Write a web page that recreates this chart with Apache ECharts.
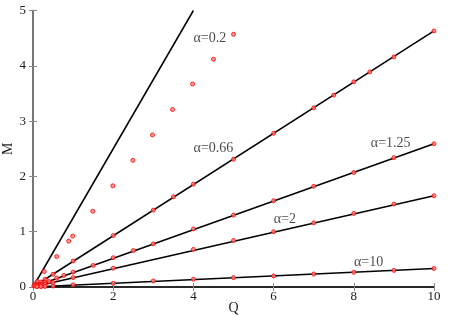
<!DOCTYPE html>
<html><head><meta charset="utf-8">
<script src="https://cdn.jsdelivr.net/npm/echarts@6/dist/echarts.min.js"></script>
<style>html,body{margin:0;padding:0;background:#fff}#c{width:450px;height:315px}</style>
</head><body><div id="c"></div>
<script>
// data
const xTicks = [0, 2, 4, 6, 8, 10];
const yTicks = [0, 1, 2, 3, 4, 5];
const labels = ["α=0.2", "α=0.66", "α=1.25", "α=2", "α=10"];
const labelQ = [4.41, 4.5, 8.92, 6.28, 8.37];
const labelM = [4.5, 2.5, 2.59, 1.22, 0.44];
// fitted lines (start, end)
const lineQ02 = [0, 4.0], lineM02 = [0, 5.0];
const lineQ066 = [0, 10], lineM066 = [0, 4.63];
const lineQ125 = [0, 10], lineM125 = [0, 2.59];
const lineQ2 = [0, 10], lineM2 = [0, 1.65];
const lineQ10 = [0, 10], lineM10 = [0, 0.335];
// measured points
const q02 = [0.02, 0.05, 0.1, 0.28, 0.59, 0.89, 0.99, 1.49, 1.99, 2.49, 2.98, 3.48, 3.98, 4.5, 5.0];
const m02 = [0.02, 0.05, 0.1, 0.28, 0.55, 0.83, 0.92, 1.37, 1.83, 2.29, 2.75, 3.21, 3.67, 4.12, 4.57];
const q066 = [0.05, 0.1, 0.2, 0.3, 0.5, 1, 2, 3, 3.5, 4, 5, 6, 7, 7.5, 8, 8.4, 9, 10];
const m066 = [0.02, 0.05, 0.09, 0.14, 0.23, 0.47, 0.93, 1.39, 1.63, 1.86, 2.31, 2.78, 3.24, 3.47, 3.71, 3.89, 4.16, 4.63];
const q125 = [0.1, 0.2, 0.3, 0.4, 0.59, 0.77, 1, 1.5, 2, 2.5, 3, 4, 5, 6, 7, 8, 9, 10];
const m125 = [0.03, 0.05, 0.08, 0.1, 0.16, 0.21, 0.27, 0.39, 0.53, 0.66, 0.78, 1.05, 1.30, 1.56, 1.82, 2.07, 2.34, 2.59];
const q2 = [0.1, 0.2, 0.3, 0.5, 1, 2, 4, 5, 6, 7, 8, 9, 10];
const m2 = [0.02, 0.03, 0.05, 0.08, 0.17, 0.34, 0.68, 0.84, 1.0, 1.16, 1.33, 1.50, 1.65];
const q10 = [0.1, 0.2, 0.3, 0.5, 1, 2, 3, 4, 5, 6, 7, 8, 9, 10];
const m10 = [0.004, 0.007, 0.01, 0.017, 0.04, 0.067, 0.11, 0.14, 0.17, 0.2, 0.235, 0.266, 0.30, 0.335];

const zip = (a, b) => a.map((v, i) => [v, b[i]]);
const FONT = '"Liberation Serif", "Times New Roman", serif';
const TXT = '#1a1a1a';
const GRAY = '#8a8a8a';

const chart = echarts.init(document.getElementById('c'), null, {renderer: 'canvas'});
const lineS = (q, m) => ({type: 'line', data: zip(q, m), symbol: 'none', silent: true,
  lineStyle: {color: '#000', width: 1.5}, z: 2, animation: false});
const ptS = (q, m) => ({type: 'scatter', data: zip(q, m), symbol: 'circle', symbolSize: 4,
  itemStyle: {color: '#ff8080', borderColor: '#ff0000', borderWidth: 1}, z: 3, animation: false});

chart.setOption({
  animation: false,
  grid: {left: 33, right: 16, top: 10.5, bottom: 28, containLabel: false, outerBoundsMode: 'none'},
  xAxis: [
    {type: 'value', min: 0, max: 10, interval: 2, position: 'bottom',
     name: 'Q', nameLocation: 'middle', nameGap: 14, nameMoveOverlap: false,
     nameTextStyle: {fontFamily: FONT, fontSize: 14, color: TXT},
     axisLine: {lineStyle: {color: GRAY, width: 1.5}},
     axisTick: {inside: true, length: 4, lineStyle: {color: GRAY}},
     axisLabel: {fontFamily: FONT, fontSize: 13, color: TXT, margin: 3},
     splitLine: {show: false}},
    {type: 'value', min: 0, max: 10, interval: 2, position: 'top',
     axisLine: {lineStyle: {color: '#000', width: 1.5}},
     axisTick: {inside: true, length: 4, lineStyle: {color: GRAY}},
     axisLabel: {show: false}, splitLine: {show: false}}
  ],
  yAxis: [
    {type: 'value', min: 0, max: 5, interval: 1, position: 'left',
     name: 'M', nameLocation: 'middle', nameGap: 18, nameRotate: 90, nameMoveOverlap: false,
     nameTextStyle: {fontFamily: FONT, fontSize: 14, color: TXT},
     axisLine: {lineStyle: {color: '#000', width: 1.5}},
     axisTick: {inside: true, length: 4, lineStyle: {color: GRAY}},
     axisLabel: {fontFamily: FONT, fontSize: 13, color: TXT, margin: 7},
     splitLine: {show: false}},
    {type: 'value', min: 0, max: 5, interval: 1, position: 'right',
     axisLine: {lineStyle: {color: GRAY, width: 1.5}},
     axisTick: {inside: true, length: 4, lineStyle: {color: GRAY}},
     axisLabel: {show: false}, splitLine: {show: false}}
  ],
  series: [
    lineS(lineQ02, lineM02), lineS(lineQ066, lineM066), lineS(lineQ125, lineM125),
    lineS(lineQ2, lineM2), lineS(lineQ10, lineM10),
    ptS(q02, m02), ptS(q066, m066), ptS(q125, m125), ptS(q2, m2), ptS(q10, m10),
    {type: 'scatter', symbolSize: 0, silent: true, z: 4,
     data: labels.map((t, i) => ({value: [labelQ[i], labelM[i]], name: t})),
     label: {show: true, position: 'inside', formatter: p => p.name,
             fontFamily: FONT, fontSize: 14, color: TXT}}
  ]
});
</script></body></html>
